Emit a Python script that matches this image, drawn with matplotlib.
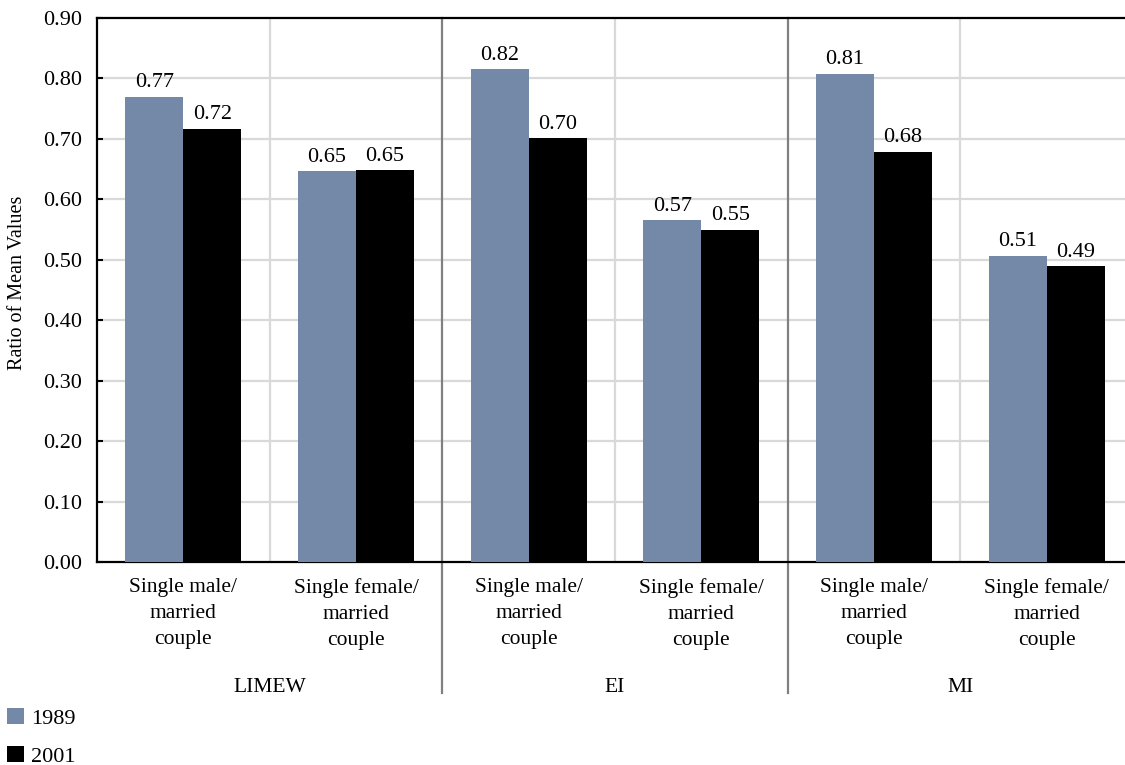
import numpy as np
import matplotlib
matplotlib.use("Agg")
import matplotlib.pyplot as plt
from matplotlib.patches import Patch
from matplotlib.lines import Line2D

plt.rcParams['font.family'] = ['Liberation Serif', 'DejaVu Serif']

# --- data ---
groups = ["LIMEW", "EI", "MI"]
categories = ["Single male/\nmarried\ncouple", "Single female/\nmarried\ncouple"] * 3
years = ["1989", "2001"]
vals_1989 = [0.770, 0.647, 0.816, 0.566, 0.808, 0.507]
vals_2001 = [0.717, 0.649, 0.702, 0.550, 0.679, 0.489]
colors = ["#7389a7", "#000000"]

fig = plt.figure(figsize=(11.25, 7.65), dpi=100)
# plot area runs slightly past the right edge of the figure
ax = fig.add_axes([97 / 1125, 1 - 562 / 765, 1036 / 1125, 544 / 765])

x = np.arange(len(categories)) + 0.5
w = 0.335
b1 = ax.bar(x - w / 2, vals_1989, w, color=colors[0], zorder=3)
b2 = ax.bar(x + w / 2, vals_2001, w, color=colors[1], zorder=3)

for bars, vals in ((b1, vals_1989), (b2, vals_2001)):
    for r, v in zip(bars, vals):
        ax.annotate(f"{v:.2f}", (r.get_x() + r.get_width() / 2, v),
                    xytext=(0, 3), textcoords="offset points",
                    ha="center", va="bottom", fontsize=16)

ax.set_xlim(0, len(categories))
ax.set_ylim(0, 0.90)
ax.set_yticks(np.arange(0, 0.91, 0.1))
ax.set_yticklabels([f"{t:.2f}" for t in np.arange(0, 0.91, 0.1)], fontsize=16)
ax.tick_params(axis="y", direction="in", length=4, width=1.5, pad=11)
ax.set_xticks([])

# light gridlines
for t in np.arange(0.1, 0.85, 0.1):
    ax.axhline(t, color="#d9d9d9", lw=1.6, zorder=1)
for xv in (1, 3, 5):
    ax.axvline(xv, color="#d9d9d9", lw=1.6, zorder=1)

# group separators run down through the label area
for xv in (2, 4):
    ax.add_line(Line2D([xv, xv], [1, -0.241], transform=ax.get_xaxis_transform(),
                       color="#808080", lw=1.6, clip_on=False, zorder=2))

for s in ("left", "bottom", "top"):
    ax.spines[s].set_linewidth(1.6)
    ax.spines[s].set_color("black")
ax.spines["right"].set_visible(False)

tr = ax.get_xaxis_transform()
for xi, lab in zip(x, categories):
    ax.text(xi, -0.03, lab, transform=tr, ha="center", va="top",
            fontsize=15.5, linespacing=1.5)
for gi, g in enumerate(groups):
    ax.text(2 * gi + 1, -0.230, g, transform=tr, ha="center", va="center",
            fontsize=15.5)

fig.text(18 / 1125, 1 - 283 / 765, "Ratio of Mean Values", rotation=90,
         ha="center", va="center", fontsize=14.5)

handles = [Patch(facecolor=c, edgecolor="none") for c in colors]
fig.legend(handles, years, loc="upper left",
           bbox_to_anchor=(7 / 1125, 1 - 708 / 765), frameon=False,
           fontsize=16, handlelength=0.78, handleheight=0.7,
           handletextpad=0.3, labelspacing=0.8, borderpad=0, borderaxespad=0)

fig.savefig("out.png", dpi=100)
